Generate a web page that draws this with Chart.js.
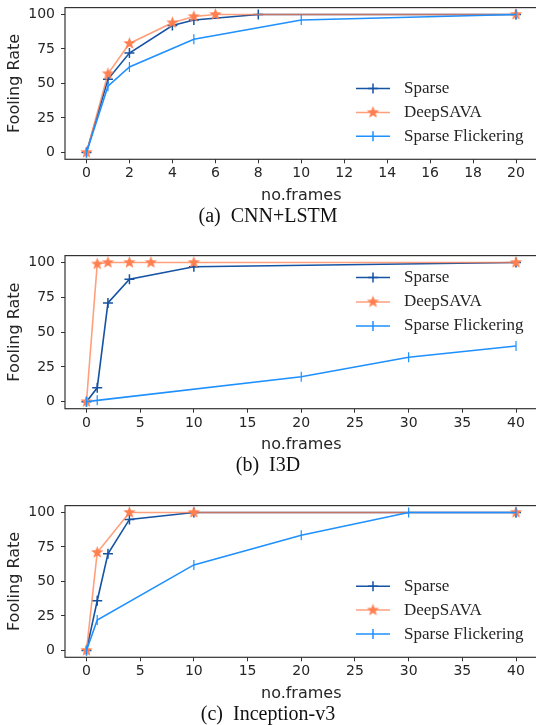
<!DOCTYPE html>
<html>
<head>
<meta charset="utf-8">
<script src="https://cdn.jsdelivr.net/npm/chart.js@4.4.0/dist/chart.umd.min.js"></script>
<style>
  body { margin: 0; width: 536px; height: 725px; overflow: hidden; background: #fff; position: relative; }
  canvas { position: absolute; left: 0; }
  .cap { position: absolute; left: 0; width: 536px; text-align: center; line-height: 24px;
         font-family: "Liberation Serif", serif; font-size: 20px; color: #111; white-space: pre; z-index: 2; }
</style>
</head>
<body>
<canvas id="cnn" width="548" height="205" style="top:0px"></canvas>
<canvas id="i3d" width="548" height="206" style="top:248px"></canvas>
<canvas id="inc" width="548" height="205" style="top:498px"></canvas>
<div class="cap" style="top:203px">(a)  CNN+LSTM</div>
<div class="cap" style="top:452px">(b)  I3D</div>
<div class="cap" style="top:701px">(c)  Inception-v3</div>
<script>
// series names
var seriesNames = ["Sparse", "DeepSAVA", "Sparse Flickering"];
var yTicks = [0, 25, 50, 75, 100];

// (a) CNN+LSTM
var cnnXTicks = [0, 2, 4, 6, 8, 10, 12, 14, 16, 18, 20];
var cnnSparseX = [0, 1, 2, 4, 5, 8, 20];
var cnnSparseY = [0, 53, 72, 92, 96, 100, 100];
var cnnDeepX = [0, 1, 2, 4, 5, 6, 20];
var cnnDeepY = [0, 57, 79, 94, 98.5, 100, 100];
var cnnFlickX = [0, 1, 2, 5, 10, 20];
var cnnFlickY = [0, 48, 62, 82, 96, 100];

// (b) I3D
var i3dXTicks = [0, 5, 10, 15, 20, 25, 30, 35, 40];
var i3dSparseX = [0, 1, 2, 4, 10, 40];
var i3dSparseY = [0, 10, 71, 88, 97, 100];
var i3dDeepX = [0, 1, 2, 4, 6, 10, 40];
var i3dDeepY = [0, 99, 100, 100, 100, 100, 100];
var i3dFlickX = [0, 1, 20, 30, 40];
var i3dFlickY = [0, 1, 18, 32, 40];

// (c) Inception-v3
var incXTicks = [0, 5, 10, 15, 20, 25, 30, 35, 40];
var incSparseX = [0, 1, 2, 4, 10, 40];
var incSparseY = [0, 36, 70, 95, 100, 100];
var incDeepX = [0, 1, 4, 10, 40];
var incDeepY = [0, 71, 100, 100, 100];
var incFlickX = [0, 1, 10, 20, 30, 40];
var incFlickY = [0, 22, 62, 83.5, 100, 100];

var darkBlue = "#1553a3";
var coral = "#ff7f50";
var coralLine = "rgba(255, 127, 80, 0.75)";
var lightBlue = "#1e90ff";
var inkColor = "#262626";

Chart.defaults.font.family = "DejaVu Sans";
Chart.defaults.color = inkColor;

function makeStar(color, r) {
  var s = Math.ceil(r * 2 + 2);
  var c = document.createElement("canvas");
  c.width = s; c.height = s;
  var g = c.getContext("2d");
  g.fillStyle = color;
  g.beginPath();
  for (var i = 0; i < 10; i++) {
    var rad = i % 2 === 0 ? r : r * 0.42;
    var a = -Math.PI / 2 + i * Math.PI / 5;
    var px = s / 2 + rad * Math.cos(a), py = s / 2 + rad * Math.sin(a);
    if (i === 0) g.moveTo(px, py); else g.lineTo(px, py);
  }
  g.closePath();
  g.fill();
  return c;
}
var starImg = makeStar(coral, 6.5);

function pts(xs, ys) {
  return xs.map(function (x, i) { return { x: x, y: ys[i] }; });
}

// full box around the plot, like matplotlib spines
var framePlugin = {
  id: "frame",
  afterDraw: function (chart) {
    var a = chart.chartArea, ctx = chart.ctx;
    ctx.save();
    ctx.strokeStyle = "#333";
    ctx.lineWidth = 1.2;
    ctx.strokeRect(a.left, a.top, a.right - a.left, a.bottom - a.top);
    ctx.restore();
  }
};

// legend drawn inside the axes
var legendPlugin = {
  id: "insideLegend",
  afterDraw: function (chart, args, opts) {
    var ctx = chart.ctx;
    ctx.save();
    chart.data.datasets.forEach(function (ds, i) {
      var y = opts.rows[i];
      var mx = (opts.x0 + opts.x1) / 2;
      ctx.strokeStyle = ds.borderColor;
      ctx.lineWidth = 1.5;
      ctx.beginPath(); ctx.moveTo(opts.x0, y); ctx.lineTo(opts.x1, y); ctx.stroke();
      ctx.strokeStyle = ds.pointBorderColor;
      if (ds.pointStyle === "cross") {
        ctx.beginPath();
        ctx.moveTo(mx - 5, y); ctx.lineTo(mx + 5, y);
        ctx.moveTo(mx, y - 5); ctx.lineTo(mx, y + 5);
        ctx.stroke();
      } else if (ds.pointStyle === "line") {
        ctx.beginPath(); ctx.moveTo(mx, y - 5); ctx.lineTo(mx, y + 5); ctx.stroke();
      } else {
        ctx.drawImage(ds.pointStyle, mx - ds.pointStyle.width / 2, y - ds.pointStyle.height / 2);
      }
      ctx.fillStyle = inkColor;
      ctx.font = '17px "Liberation Serif"';
      ctx.textBaseline = "middle";
      ctx.textAlign = "left";
      ctx.fillText(ds.label, opts.tx, y);
    });
    ctx.restore();
  }
};

function buildChart(id, setup) {
  var datasets = [
    { label: seriesNames[0], data: pts(setup.sparse[0], setup.sparse[1]), borderColor: darkBlue,
      pointStyle: "cross", pointRadius: 5, pointBorderColor: darkBlue, pointBorderWidth: 1.5, order: 3 },
    { label: seriesNames[1], data: pts(setup.deep[0], setup.deep[1]), borderColor: coralLine,
      pointStyle: starImg, pointRadius: 6, pointBorderColor: coral, order: 2 },
    { label: seriesNames[2], data: pts(setup.flick[0], setup.flick[1]), borderColor: lightBlue,
      pointStyle: "line", pointRotation: 90, pointRadius: 5, pointBorderColor: lightBlue, pointBorderWidth: 1.2, order: 1 }
  ];
  datasets.forEach(function (d) {
    d.borderWidth = 1.6;
    d.tension = 0;
    d.fill = false;
    d.pointHoverRadius = d.pointRadius;
  });

  return new Chart(document.getElementById(id).getContext("2d"), {
    type: "line",
    data: { datasets: datasets },
    options: {
      responsive: false,
      animation: false,
      events: [],
      layout: { padding: { top: setup.padTop, right: 10.5, left: 0, bottom: 0 } },
      plugins: {
        legend: { display: false },
        tooltip: { enabled: false },
        insideLegend: { x0: 356, x1: 390, tx: 404, rows: setup.rows }
      },
      scales: {
        x: {
          type: "linear",
          min: setup.xMin, max: setup.xMax,
          afterBuildTicks: function (s) { s.ticks = setup.xTicks.map(function (v) { return { value: v }; }); },
          afterFit: function (s) { s.height = setup.xHeight; s.paddingLeft = 0; s.paddingRight = 0; },
          grid: { drawOnChartArea: false, drawTicks: true, tickLength: 4, color: "#333" },
          border: { display: false },
          ticks: { padding: 2, color: inkColor, font: { size: 14 }, maxRotation: 0 },
          title: { display: true, text: "no.frames", color: inkColor, font: { size: 16 }, padding: 0 }
        },
        y: {
          type: "linear",
          min: -5, max: 105,
          afterBuildTicks: function (s) { s.ticks = yTicks.map(function (v) { return { value: v }; }); },
          afterFit: function (s) { s.width = 65; s.paddingTop = 0; s.paddingBottom = 0; },
          grid: { drawOnChartArea: false, drawTicks: true, tickLength: 4, color: "#333" },
          border: { display: false },
          ticks: { padding: 6, color: inkColor, font: { size: 14 } },
          title: { display: true, text: "Fooling Rate", color: inkColor, font: { size: 16 }, padding: { top: 5, bottom: 0 } }
        }
      }
    },
    plugins: [framePlugin, legendPlugin]
  });
}

buildChart("cnn", {
  sparse: [cnnSparseX, cnnSparseY], deep: [cnnDeepX, cnnDeepY], flick: [cnnFlickX, cnnFlickY],
  xTicks: cnnXTicks, xMin: -1, xMax: 21, padTop: 6, xHeight: 45.7, rows: [88.5, 112.5, 136.3]
});
buildChart("i3d", {
  sparse: [i3dSparseX, i3dSparseY], deep: [i3dDeepX, i3dDeepY], flick: [i3dFlickX, i3dFlickY],
  xTicks: i3dXTicks, xMin: -2, xMax: 42, padTop: 6.3, xHeight: 45.3, rows: [277.6 - 248, 301.9 - 248, 325.9 - 248]
});
buildChart("inc", {
  sparse: [incSparseX, incSparseY], deep: [incDeepX, incDeepY], flick: [incFlickX, incFlickY],
  xTicks: incXTicks, xMin: -2, xMax: 42, padTop: 6, xHeight: 45.7, rows: [586.2 - 498, 610.1 - 498, 634.1 - 498]
});
</script>
</body>
</html>
